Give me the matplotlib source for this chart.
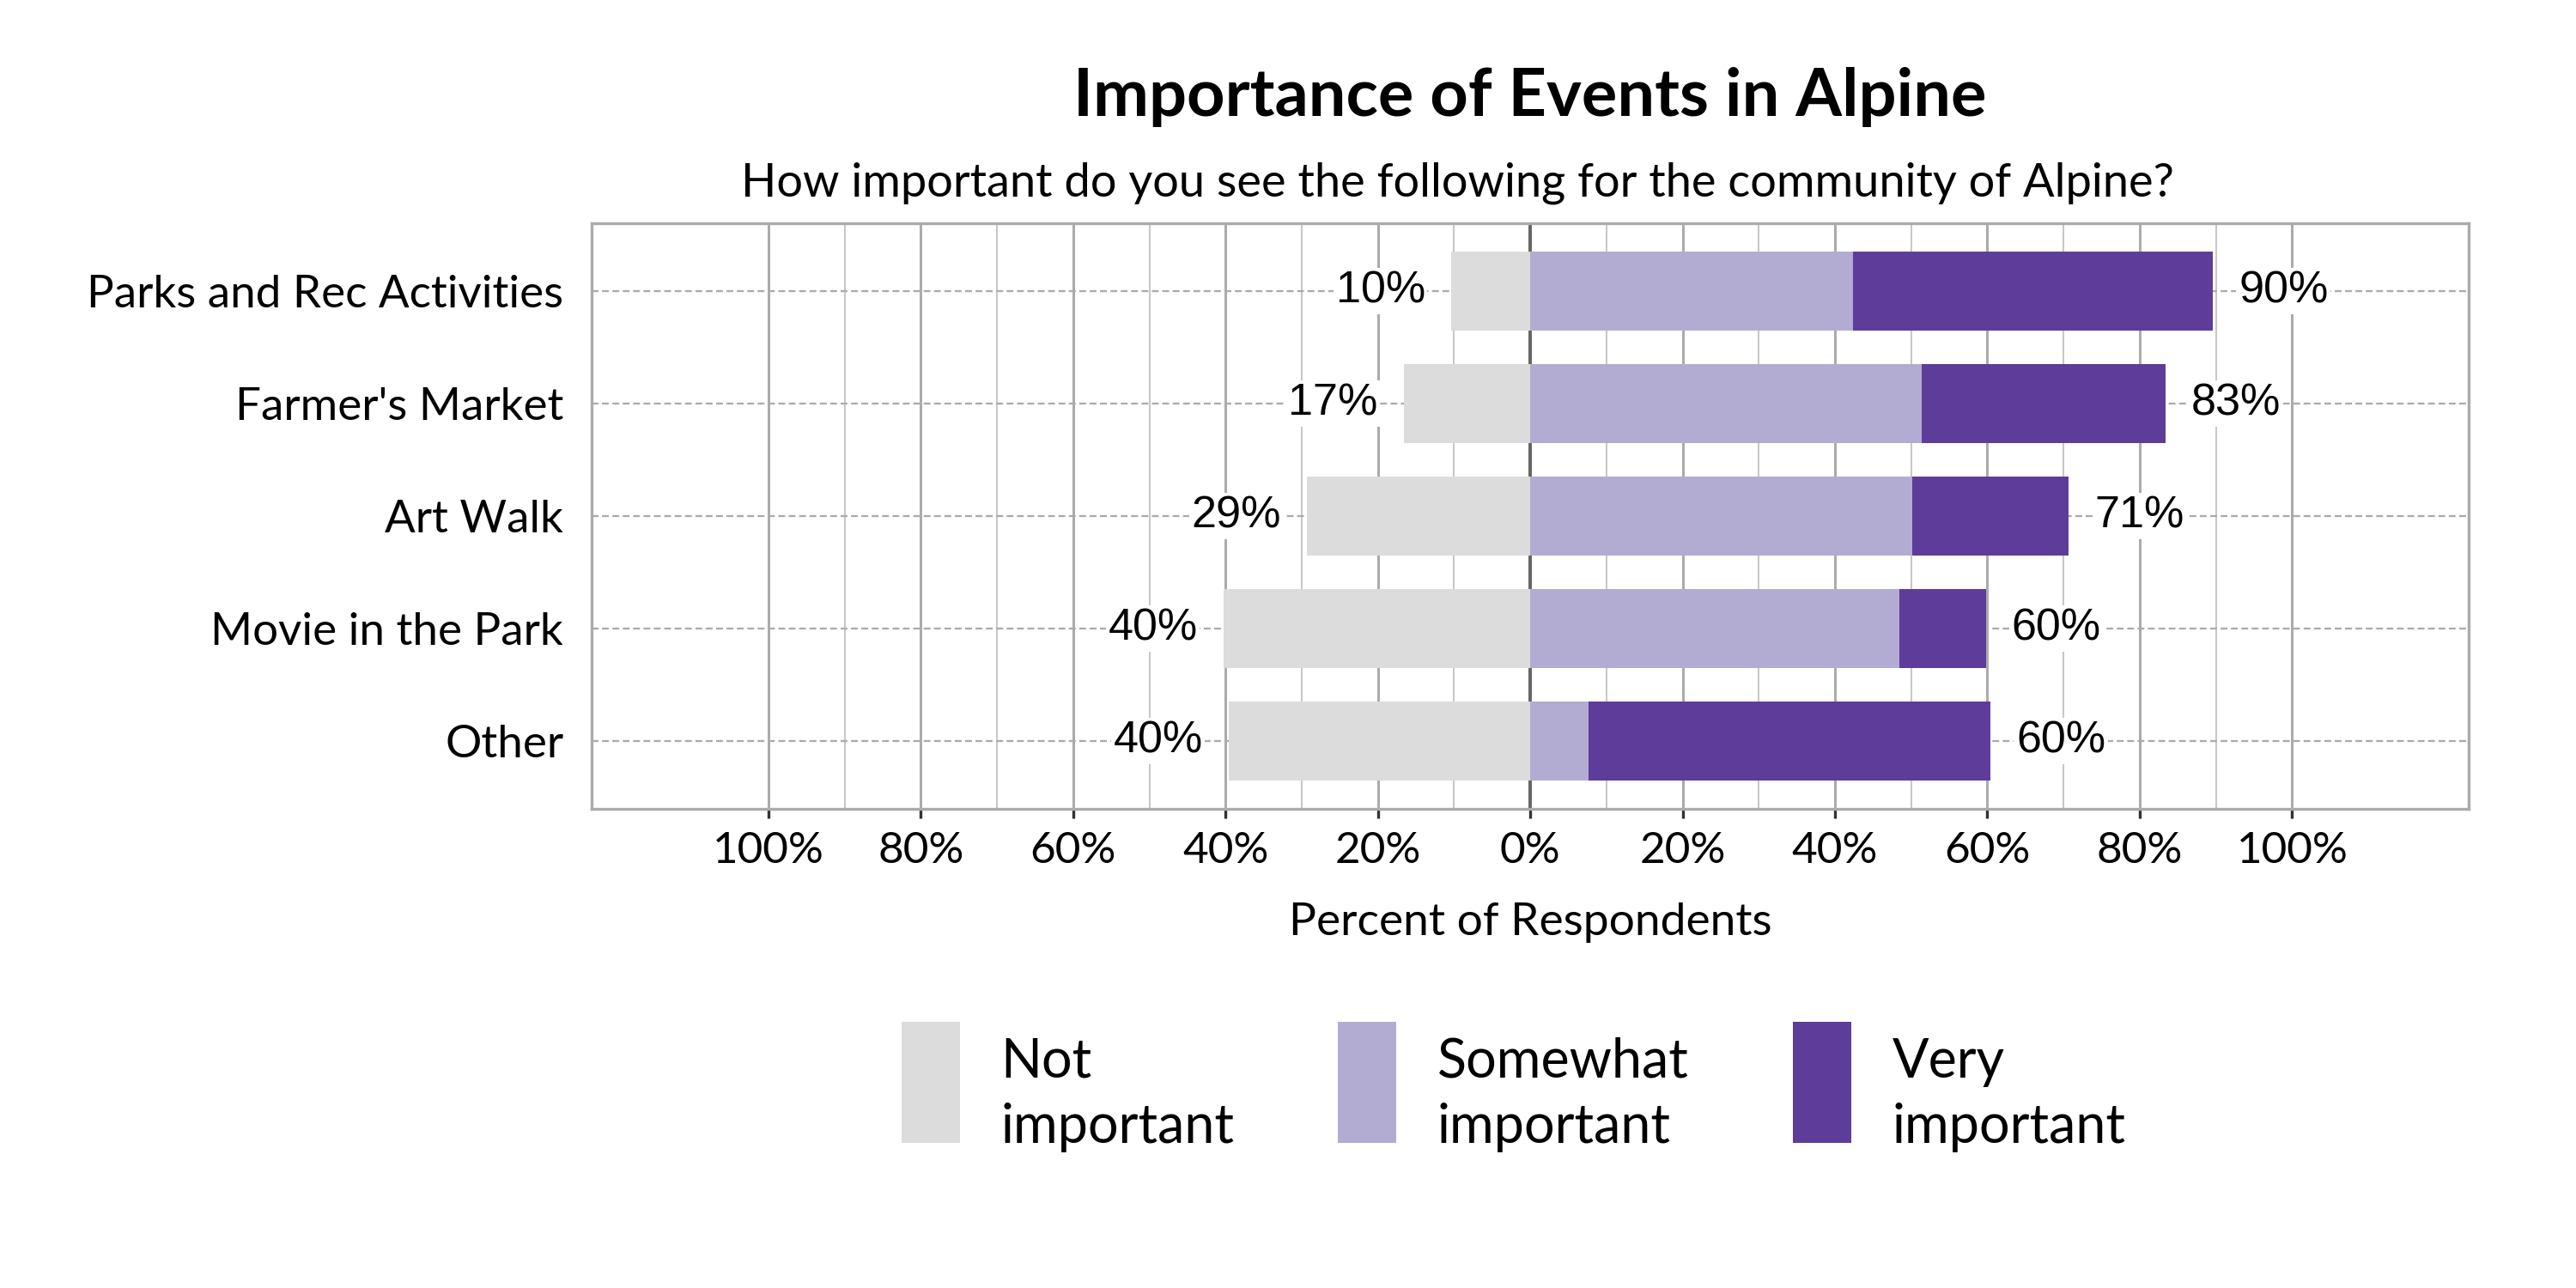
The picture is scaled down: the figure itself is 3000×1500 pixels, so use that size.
import matplotlib
matplotlib.use("Agg")
import matplotlib.pyplot as plt
from matplotlib.patches import Patch, Rectangle
from matplotlib.legend_handler import HandlerPatch

# survey data (percent of respondents)
items = ["Parks and Rec Activities", "Farmer's Market", "Art Walk",
         "Movie in the Park", "Other"]
not_imp = [10.4, 16.6, 29.3, 40.3, 39.6]
somewhat = [42.4, 51.4, 50.1, 48.5, 7.7]
very = [47.2, 32.0, 20.6, 11.3, 52.7]
levels = ["Not\nimportant", "Somewhat\nimportant", "Very\nimportant"]
colors = ["#dcdcdc", "#b2acd2", "#5e3c99"]
ticks = [-100, -80, -60, -40, -20, 0, 20, 40, 60, 80, 100]

plt.rcParams["font.family"] = ["Lato", "DejaVu Sans"]
plt.rcParams["lines.scale_dashes"] = False


class TallKey(HandlerPatch):
    # legend key raised a bit so it sits centred on two-line labels
    def create_artists(self, legend, orig_handle, xdescent, ydescent,
                       width, height, fontsize, trans):
        r = Rectangle((-xdescent, -ydescent + 4.6), width, height,
                      facecolor=orig_handle.get_facecolor(), edgecolor="none")
        r.set_transform(trans)
        return [r]


fig = plt.figure(figsize=(10, 5), dpi=300)
ax = fig.add_axes([0.2297, 0.372, 0.7287, 0.4547])

y = list(range(len(items)))
ax.barh(y, [-v for v in not_imp], height=0.7, color=colors[0], zorder=3)
ax.barh(y, somewhat, height=0.7, color=colors[1], zorder=3)
ax.barh(y, very, left=somewhat, height=0.7, color=colors[2], zorder=3)

# percentage labels on each side
lab_style = dict(va="center", fontsize=12.5, family=["Liberation Sans", "DejaVu Sans"],
                 textcoords="offset points", zorder=4,
                 bbox=dict(boxstyle="square,pad=0.05", fc="white", ec="none"))
for i in y:
    lo = not_imp[i]
    hi = somewhat[i] + very[i]
    ax.annotate("%.0f%%" % lo, (-lo, i), xytext=(-7.2, 0), ha="right", **lab_style)
    ax.annotate("%.0f%%" % hi, (hi, i), xytext=(7.2, 0), ha="left", **lab_style)

ax.set_xlim(-123.2, 123.2)
ax.set_ylim(len(items) - 0.4, -0.6)

# grid
for x in range(-90, 100, 20):
    ax.axvline(x, color="#c4c4c4", lw=0.45, zorder=0)
for x in ticks:
    if x != 0:
        ax.axvline(x, color="#ababab", lw=0.72, zorder=0)
ax.axvline(0, color="#666666", lw=0.95, zorder=1)
for i in y:
    ax.axhline(i, color="#ababab", lw=0.55, linestyle=(0, (1.9, 1.0)), zorder=1)

ax.set_xticks(ticks)
ax.set_xticklabels(["%d%%" % abs(t) for t in ticks], fontsize=12.3)
ax.set_yticks(y)
ax.set_yticklabels(items, fontsize=12.7)
ax.tick_params(axis="x", length=2.64, width=0.8, color="#333333", pad=3.5)
ax.tick_params(axis="y", length=0, pad=7.9)
for s in ax.spines.values():
    s.set_color("#ababab")
    s.set_linewidth(0.8)

fig.text(0.594, 0.91, "Importance of Events in Alpine", ha="center", va="baseline",
         fontsize=18.6, fontweight="bold")
fig.text(0.5657, 0.848, "How important do you see the following for the community of Alpine?",
         ha="center", va="baseline", fontsize=13.0)
fig.text(0.594, 0.274, "Percent of Respondents", ha="center", va="baseline", fontsize=12.8)

handles = [Patch(color=c) for c in colors]
leg = fig.legend(handles, levels, loc="center", bbox_to_anchor=(0.5875, 0.1473), ncol=3,
                 frameon=False, fontsize=15.1, handlelength=1.08, handleheight=3.07,
                 handletextpad=0.76, columnspacing=1.92, borderpad=0,
                 handler_map={Patch: TallKey()})
for t in leg.get_texts():
    t.set_linespacing(1.4)

fig.savefig("out.png", dpi=300, facecolor="white")
